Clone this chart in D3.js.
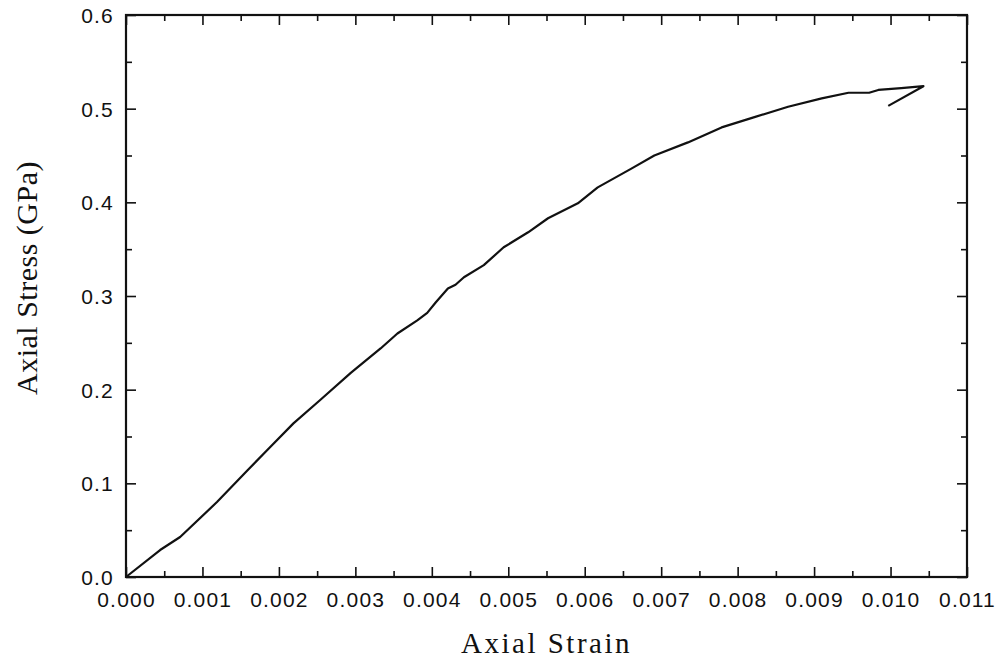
<!DOCTYPE html>
<html>
<head>
<meta charset="utf-8">
<script src="https://cdn.jsdelivr.net/npm/d3@7"></script>
<style>
  body { margin: 0; background: #fff; }
  svg { display: block; }
  .tick text { font-family: "Liberation Sans", Arial, sans-serif; font-size: 21px; letter-spacing: 1.2px; fill: #111; }
  .domain { display: none; }
  .tick line { stroke: #111; stroke-width: 1.6; }
</style>
</head>
<body>
<svg id="chart" width="1001" height="659"></svg>
<script>
// strain / stress readings (GPa)
var strain = [0, 0.000446, 0.000708, 0.00119, 0.00159, 0.00189, 0.00219, 0.00254, 0.00294,
  0.00333, 0.00355, 0.00381, 0.00394, 0.00405, 0.00421, 0.00431, 0.00442, 0.00468, 0.00494,
  0.00526, 0.00552, 0.00591, 0.00617, 0.00661, 0.00691, 0.00735, 0.00779, 0.00822, 0.00866,
  0.00910, 0.00945, 0.00972, 0.00984, 0.01014, 0.01043, 0.00997];
var stress = [0, 0.0288, 0.0427, 0.080, 0.114, 0.139, 0.164, 0.189, 0.218,
  0.244, 0.260, 0.274, 0.282, 0.293, 0.308, 0.312, 0.320, 0.333, 0.352,
  0.368, 0.383, 0.399, 0.416, 0.436, 0.450, 0.464, 0.480, 0.491, 0.502,
  0.511, 0.517, 0.517, 0.520, 0.522, 0.524, 0.503];

var xTicks = d3.range(0, 12).map(function(i) { return i * 0.001; });
var xMinor = d3.range(0, 11).map(function(i) { return i * 0.001 + 0.0005; });
var yTicks = d3.range(0, 7).map(function(i) { return i * 0.1; });
var yMinor = d3.range(0, 6).map(function(i) { return i * 0.1 + 0.05; });

var plotL = 126, plotR = 967, plotT = 15, plotB = 577;
var svg = d3.select("#chart");

var x = d3.scaleLinear().domain([0, 0.011]).range([plotL, plotR]);
var y = d3.scaleLinear().domain([0, 0.6]).range([plotB, plotT]);

// major + minor ticks, all pointing inward
function axes(maj, min, gen, pos, labels, dy) {
  var g = svg.append("g").attr("transform", pos)
    .call(gen(maj).tickSizeInner(-10).tickSizeOuter(0).tickPadding(labels ? 12 : 0)
      .tickFormat(labels ? d3.format(labels) : ""));
  if (labels) g.selectAll("text").attr("dy", dy);
  svg.append("g").attr("transform", pos)
    .call(gen(min).tickSizeInner(-6).tickSizeOuter(0).tickFormat(""));
}
axes(xTicks, xMinor, function(t) { return d3.axisBottom(x).tickValues(t); }, "translate(0," + plotB + ")", ".3f", "0.85em");
axes(xTicks, xMinor, function(t) { return d3.axisTop(x).tickValues(t); }, "translate(0," + plotT + ")", null);
axes(yTicks, yMinor, function(t) { return d3.axisLeft(y).tickValues(t); }, "translate(" + plotL + ",0)", ".1f", "0.35em");
axes(yTicks, yMinor, function(t) { return d3.axisRight(y).tickValues(t); }, "translate(" + plotR + ",0)", null);

svg.append("rect")
  .attr("x", plotL).attr("y", plotT)
  .attr("width", plotR - plotL).attr("height", plotB - plotT)
  .attr("fill", "none").attr("stroke", "#111").attr("stroke-width", 2.2);

var line = d3.line()
  .x(function(d, i) { return x(strain[i]); })
  .y(function(d, i) { return y(stress[i]); });

svg.append("path")
  .datum(strain)
  .attr("d", line)
  .attr("fill", "none")
  .attr("stroke", "#111")
  .attr("stroke-width", 2.2)
  .attr("stroke-linejoin", "round");

svg.append("text")
  .attr("x", (plotL + plotR) / 2).attr("y", 653)
  .attr("text-anchor", "middle")
  .style("font-family", "'Liberation Serif', 'Times New Roman', serif")
  .style("font-size", "29px").style("letter-spacing", "2.5px")
  .attr("fill", "#111")
  .text("Axial Strain");

svg.append("text")
  .attr("transform", "translate(37,278) rotate(-90)")
  .attr("text-anchor", "middle")
  .style("font-family", "'Liberation Serif', 'Times New Roman', serif")
  .style("font-size", "30px").style("letter-spacing", "0.5px")
  .attr("fill", "#111")
  .text("Axial Stress (GPa)");
</script>
</body>
</html>
